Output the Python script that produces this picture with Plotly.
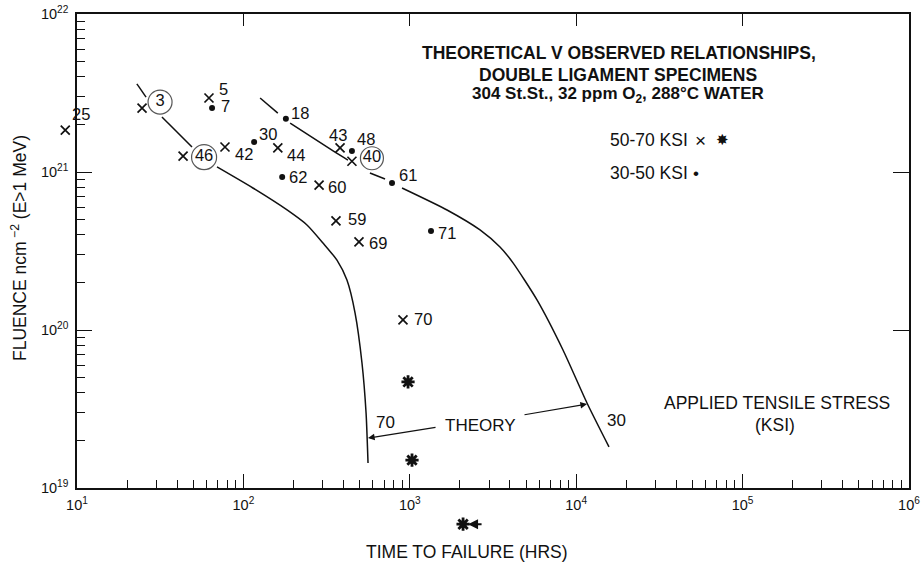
import math
import plotly.graph_objects as go

# ---------------- data ----------------
# 50-70 KSI specimens, labelled crosses
cross_ids = ["25", "3", "5", "46", "42", "44", "43", "40", "60", "59", "69", "70"]
cross_time = [8.5, 24.6, 62.1, 43.4, 77.5, 161, 381, 449, 285, 360, 495, 910]
cross_fluence = [1.84e21, 2.54e21, 2.94e21, 1.26e21, 1.44e21, 1.42e21, 1.42e21,
                 1.17e21, 8.27e20, 4.90e20, 3.61e20, 1.16e20]

# 30-50 KSI specimens, labelled dots
dot_ids = ["7", "18", "30", "48", "62", "61", "71"]
dot_time = [64.8, 180, 116, 449, 171, 782, 1341]
dot_fluence = [2.54e21, 2.17e21, 1.55e21, 1.36e21, 9.30e20, 8.52e20, 4.23e20]

# 50-70 KSI specimens, unlabelled stars
star_time = [976, 1031, 2090]
star_fluence = [4.69e19, 1.50e19, 5.9e18]

# theory curves (None = break in the drawn line)
theory70_time = [22.9, 26.0, None, 32.4, 39.9, 49.1, None, 69.4, 114, 183, 241, 301,
                 365, 419, 469, 516, 546, 561]
theory70_fluence = [3.61e21, 2.98e21, None, 2.23e21, 1.79e21, 1.44e21, None, 1.076e21,
                    7.92e20, 5.75e20, 4.62e20, 3.55e20, 2.77e20, 2.07e20, 1.28e20,
                    6.18e19, 2.98e19, 1.44e19]
theory30_time = [126, 161, None, 191, 346, 425, None, 576, 710, None, 898, 1674, 2642,
                 3483, 4172, 5813, 8330, 11610, 15740]
theory30_fluence = [2.94e21, 2.36e21, None, 2.04e21, 1.36e21, 1.19e21, None, 9.86e20,
                    9.03e20, None, 7.92e20, 5.75e20, 4.30e20, 3.35e20, 2.66e20,
                    1.55e20, 7.47e19, 3.45e19, 1.82e19]

x_tick_vals = [1e1, 1e2, 1e3, 1e4, 1e5, 1e6]
x_tick_text = ["10<sup>1</sup>", "10<sup>2</sup>", "10<sup>3</sup>",
               "10<sup>4</sup>", "10<sup>5</sup>", "10<sup>6</sup>"]
y_tick_vals = [1e19, 1e20, 1e21, 1e22]
y_tick_text = ["10<sup>19</sup>", "10<sup>20</sup>", "10<sup>21</sup>", "10<sup>22</sup>"]

# ---------------- layout geometry / styling ----------------
W, H = 923, 566
PL, PR, PT, PB = 77, 909, 14, 488          # plot frame in pixels
XR, YR = (1, 6), (19, 22)                   # log10 ranges of the frame
px_per_dec_x = (PR - PL) / (XR[1] - XR[0])
px_per_dec_y = (PB - PT) / (YR[1] - YR[0])
# full-figure data axes with the same scale (so marks outside the frame still show)
X_FULL = [XR[0] - PL / px_per_dec_x, XR[1] + (W - PR) / px_per_dec_x]
Y_FULL = [YR[0] - (H - PB) / px_per_dec_y, YR[1] + PT / px_per_dec_y]

FONT = "Liberation Sans, Arial, Helvetica, sans-serif"
BLACK = "#111111"
# circled labels: pixel offset of circle centre from its point, circle diameter
circled = {"3": (18, -6, 24), "46": (21, 1, 25), "40": (20, -3, 23)}
cross_label_offsets = [(16, -16), (0, 0), (15, -9), (0, 0), (19, 7), (18, 7), (-2, -13),
                       (0, 0), (18, 2), (21, -2), (19, 1), (20, -1)]
dot_label_offsets = [(13, -2), (14, -6), (14, -8), (14, -12), (16, 0), (16, -8), (16, 2)]


def paper(px, py):
    return px / W, 1 - py / H


fig = go.Figure()
DATA_AX = dict(xaxis="x3", yaxis="y3", showlegend=False)

fig.add_trace(go.Scatter(x=theory70_time, y=theory70_fluence, mode="lines",
                         line=dict(color=BLACK, width=1.5, shape="spline", smoothing=0.6),
                         connectgaps=False, hoverinfo="skip", **DATA_AX))
fig.add_trace(go.Scatter(x=theory30_time, y=theory30_fluence, mode="lines",
                         line=dict(color=BLACK, width=1.5, shape="spline", smoothing=0.6),
                         connectgaps=False, hoverinfo="skip", **DATA_AX))
fig.add_trace(go.Scatter(x=cross_time, y=cross_fluence, mode="markers",
                         marker=dict(symbol="x-thin", size=9, color=BLACK,
                                     line=dict(color=BLACK, width=1.7)), **DATA_AX))
fig.add_trace(go.Scatter(x=dot_time, y=dot_fluence, mode="markers",
                         marker=dict(symbol="circle", size=6, color=BLACK), **DATA_AX))
fig.add_trace(go.Scatter(x=star_time, y=star_fluence, mode="markers",
                         marker=dict(symbol="circle", size=7, color=BLACK), **DATA_AX))
fig.add_trace(go.Scatter(x=star_time, y=star_fluence, mode="markers",
                         marker=dict(symbol="asterisk-open", size=11, color=BLACK,
                                     line=dict(color=BLACK, width=2.8)), **DATA_AX))

# circled labels: white discs placed beside their points (offsets through the axis scale)
c_x, c_y, c_txt, c_size = [], [], [], []
for i, lab in enumerate(cross_ids):
    if lab in circled:
        dx, dy, d = circled[lab]
        c_x.append(cross_time[i] * 10 ** (dx / px_per_dec_x))
        c_y.append(cross_fluence[i] * 10 ** (-dy / px_per_dec_y))
        c_txt.append(lab)
        c_size.append(d)
fig.add_trace(go.Scatter(x=c_x, y=c_y, text=c_txt, mode="markers+text",
                         textposition="middle center",
                         textfont=dict(family=FONT, size=16.5, color=BLACK),
                         marker=dict(symbol="circle", size=c_size, color="white",
                                     line=dict(color=BLACK, width=1.2)),
                         hoverinfo="skip", **DATA_AX))

# invisible carriers for the frame axes
fig.add_trace(go.Scatter(x=[None], y=[None], showlegend=False, hoverinfo="skip"))
fig.add_trace(go.Scatter(x=[None], y=[None], xaxis="x2", yaxis="y2",
                         showlegend=False, hoverinfo="skip"))

annotations = []


def add_label(xv, yv, text, dx, dy):
    annotations.append(dict(x=math.log10(xv), y=math.log10(yv), xref="x3", yref="y3",
                            text=text, showarrow=False, xshift=dx, yshift=-dy,
                            xanchor="center", yanchor="middle",
                            font=dict(family=FONT, size=16.5, color=BLACK)))


for i, lab in enumerate(cross_ids):
    if lab not in circled:
        dx, dy = cross_label_offsets[i]
        add_label(cross_time[i], cross_fluence[i], lab, dx, dy)

for i, lab in enumerate(dot_ids):
    dx, dy = dot_label_offsets[i]
    add_label(dot_time[i], dot_fluence[i], lab, dx, dy)

# star below axis with left-pointing arrow
annotations.append(dict(x=math.log10(star_time[2]), y=math.log10(star_fluence[2]),
                        xref="x3", yref="y3", text="", showarrow=True, ax=20, ay=0,
                        arrowhead=2, arrowsize=1, arrowwidth=2, standoff=5,
                        arrowcolor=BLACK))

# THEORY arrows and labels
annotations.append(dict(x=math.log10(561), y=math.log10(2.07e19), xref="x3", yref="y3",
                        text="", showarrow=True, ax=69, ay=-11, arrowhead=2,
                        arrowsize=1.1, arrowwidth=1.2, arrowcolor=BLACK))
annotations.append(dict(x=math.log10(11610), y=math.log10(3.40e19), xref="x3", yref="y3",
                        text="", showarrow=True, ax=-64, ay=11, arrowhead=2,
                        arrowsize=1.1, arrowwidth=1.2, arrowcolor=BLACK))
for txt, xv, yv in [("THEORY", 2642, 2.47e19), ("70", 719, 2.58e19), ("30", 17350, 2.69e19)]:
    annotations.append(dict(x=math.log10(xv), y=math.log10(yv), xref="x3", yref="y3",
                            text=txt, showarrow=False, xanchor="center", yanchor="middle",
                            font=dict(family=FONT, size=17, color=BLACK)))


def add_text(px, py, text, size, anchor="center", family=FONT, angle=0):
    x, y = paper(px, py)
    annotations.append(dict(x=x, y=y, xref="paper", yref="paper", text=text,
                            showarrow=False, xanchor=anchor, yanchor="middle",
                            textangle=angle,
                            font=dict(family=family, size=size, color=BLACK)))


# title block
add_text(619, 53, "<b>THEORETICAL V OBSERVED RELATIONSHIPS,</b>", 17.5)
add_text(618, 75, "<b>DOUBLE LIGAMENT SPECIMENS</b>", 17.5)
add_text(618, 95, "<b>304 St.St., 32 ppm O<sub>2</sub>, 288°C WATER</b>", 17)

# legend block
add_text(608, 140, "50-70 KSI", 17.5, anchor="left")
add_text(700, 140, "×", 19)
add_text(722, 140, "✸", 15, family="DejaVu Sans")
add_text(608, 173, "30-50 KSI", 17.5, anchor="left")
add_text(696, 174, "•", 17)

add_text(777, 403, "APPLIED TENSILE STRESS", 17.5)
add_text(775, 425, "(KSI)", 17.5)

# axis titles
add_text(467, 552, "TIME TO FAILURE (HRS)", 17.5)
add_text(19, 248, "FLUENCE ncm<sup> −2</sup> (E&gt;1 MeV)", 17.5, angle=-90)

x_minor = [m * 10.0 ** k for k in range(1, 6) for m in range(2, 10)]
y_minor = [m * 10.0 ** k for k in range(19, 22) for m in range(2, 10)]

x_dom = [PL / W, PR / W]
y_dom = [1 - PB / H, 1 - PT / H]

axis_common = dict(type="log", showgrid=False, zeroline=False, showline=True,
                   automargin=False,
                   linecolor=BLACK, linewidth=1.6, ticks="inside", tickcolor=BLACK,
                   tickwidth=1.4, tickfont=dict(family=FONT, size=14.5, color=BLACK))

fig.update_layout(
    template="none",
    width=W, height=H,
    margin=dict(l=0, r=0, t=0, b=0, pad=0, autoexpand=False),
    paper_bgcolor="white", plot_bgcolor="rgba(0,0,0,0)",
    showlegend=False,
    xaxis=dict(**axis_common, range=list(XR), domain=x_dom, anchor="y",
               tickmode="array", tickvals=x_tick_vals,
               ticktext=x_tick_text, ticklen=14, ticklabelstandoff=3,
               minor=dict(ticks="inside", ticklen=8, tickwidth=1.2, tickcolor=BLACK,
                          tickvals=x_minor, showgrid=False)),
    yaxis=dict(**axis_common, range=list(YR), domain=y_dom, anchor="x",
               tickmode="array", tickvals=y_tick_vals,
               ticktext=y_tick_text, ticklen=15, ticklabelstandoff=4,
               minor=dict(ticks="inside", ticklen=8, tickwidth=1.2, tickcolor=BLACK,
                          tickvals=y_minor, showgrid=False)),
    xaxis2=dict(**axis_common, range=list(XR), overlaying="x", side="top", anchor="y",
                tickmode="array", tickvals=[1e2, 1e3, 1e4, 1e5], ticklen=12,
                showticklabels=False),
    yaxis2=dict(**axis_common, range=list(YR), overlaying="y", side="right", anchor="x",
                tickmode="array", tickvals=[1e20, 1e21], ticklen=16,
                showticklabels=False),
    xaxis3=dict(type="log", range=X_FULL, domain=[0, 1], anchor="y3", visible=False,
                automargin=False, showgrid=False, zeroline=False),
    yaxis3=dict(type="log", range=Y_FULL, domain=[0, 1], anchor="x3", visible=False,
                automargin=False, showgrid=False, zeroline=False),
    annotations=annotations,
)

fig.write_html("out.html")
